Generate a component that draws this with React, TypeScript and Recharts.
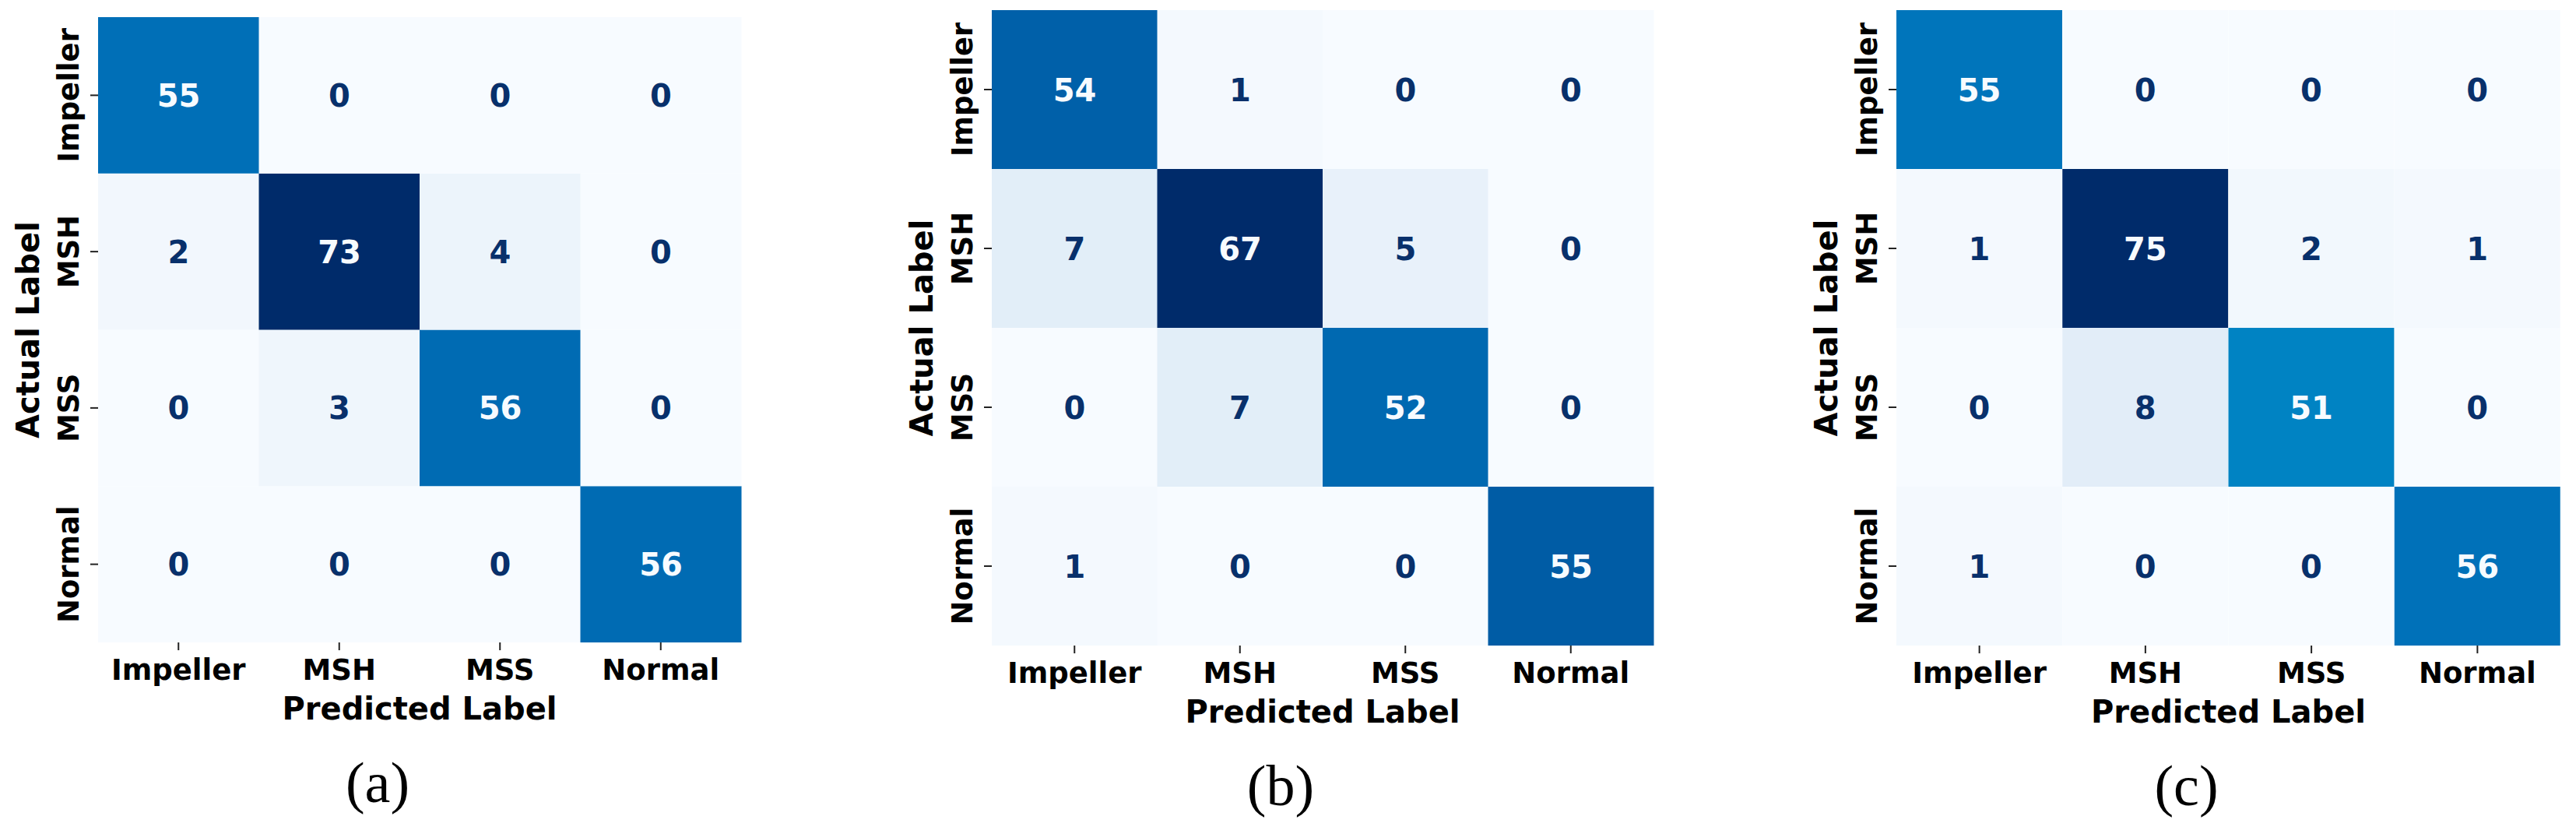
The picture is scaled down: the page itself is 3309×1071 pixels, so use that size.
import React from "react";
import { BarChart, Bar, XAxis, YAxis, Cell, LabelList, Label } from "recharts";

// class names, used for both axes
const CLASSES = ["Impeller", "MSH", "MSS", "Normal"];

// confusion matrices: rows = actual, columns = predicted
const MATRIX_A = [
  [55, 0, 0, 0],
  [2, 73, 4, 0],
  [0, 3, 56, 0],
  [0, 0, 0, 56],
];
const MATRIX_B = [
  [54, 1, 0, 0],
  [7, 67, 5, 0],
  [0, 7, 52, 0],
  [1, 0, 0, 55],
];
const MATRIX_C = [
  [55, 0, 0, 0],
  [1, 75, 2, 1],
  [0, 8, 51, 0],
  [1, 0, 0, 56],
];
const CAPTIONS = ["(a)", "(b)", "(c)"];

// page layout of each panel (plot rectangle in page pixels)
const PANELS = [
  { matrix: MATRIX_A, chartLeft: 0, chartWidth: 1000, plot: { l: 126, t: 22, r: 952, b: 825 } },
  { matrix: MATRIX_B, chartLeft: 1110, chartWidth: 1040, plot: { l: 1274, t: 13, r: 2124, b: 829 } },
  { matrix: MATRIX_C, chartLeft: 2270, chartWidth: 1039, plot: { l: 2436, t: 13, r: 3289, b: 829 } },
];

const PAGE_H = 1071;
const Y_AXIS_W = 100;
const X_AXIS_H = 60;
const SANS = "'DejaVu Sans', Verdana, sans-serif";
const SERIF = "'Liberation Serif', 'Times New Roman', serif";

// Blues-like colour ramp (tuned to the picture)
const STOPS: [number, number[]][] = [
  [0, [247, 251, 255]],
  [0.125, [222, 235, 247]],
  [0.25, [198, 219, 239]],
  [0.375, [158, 202, 225]],
  [0.5, [100, 170, 215]],
  [0.625, [30, 140, 205]],
  [0.68, [0, 131, 195]],
  [0.75, [0, 112, 184]],
  [0.81, [0, 95, 168]],
  [0.875, [0, 80, 150]],
  [1, [0, 43, 106]],
];

function blues(t: number) {
  const v = Math.max(0, Math.min(1, t));
  for (let i = 1; i < STOPS.length; i++) {
    const [t1, c1] = STOPS[i];
    const [t0, c0] = STOPS[i - 1];
    if (v <= t1) {
      const f = (v - t0) / (t1 - t0);
      const c = c0.map((a, k) => Math.round(a + (c1[k] - a) * f));
      return `rgb(${c[0]},${c[1]},${c[2]})`;
    }
  }
  return "rgb(0,43,106)";
}

const Y_TICKS = CLASSES.map((_, i) => CLASSES.length - i - 0.5);

function buildData(m: number[][]) {
  return CLASSES.map((pred, j) => {
    const rec: Record<string, any> = { pred };
    m.forEach((row, i) => {
      rec[`cell${i}`] = 1;
      rec[`count${i}`] = row[j];
    });
    return rec;
  });
}

const XTick = (props: any) => {
  const { x, y, payload } = props;
  return (
    <text x={x} y={y + 38} textAnchor="middle" fill="#000"
      style={{ fontFamily: SANS, fontWeight: 700, fontSize: 37 }}>
      {payload.value}
    </text>
  );
};

const YTick = (props: any) => {
  const { x, y, payload } = props;
  const name = CLASSES[CLASSES.length - 1 - Math.floor(payload.value)];
  const bx = x - 15;
  return (
    <text x={bx} y={y} transform={`rotate(-90 ${bx} ${y})`} textAnchor="middle" fill="#000"
      style={{ fontFamily: SANS, fontWeight: 700, fontSize: 37 }}>
      {name}
    </text>
  );
};

function Panel({ idx }: { idx: number }) {
  const p = PANELS[idx];
  const m = p.matrix;
  const max = Math.max(...m.flat());
  const data = buildData(m);
  const margin = {
    left: p.plot.l - p.chartLeft - Y_AXIS_W,
    top: p.plot.t,
    right: p.chartLeft + p.chartWidth - p.plot.r,
    bottom: PAGE_H - p.plot.b - X_AXIS_H,
  };
  // stack from the bottom row (Normal) up to the top row (Impeller)
  const rowOrder = m.map((_, i) => i).reverse();

  return (
    <div style={{ position: "absolute", left: p.chartLeft, top: 0 }}>
      <BarChart width={p.chartWidth} height={PAGE_H} data={data} margin={margin}
        barCategoryGap={0} barGap={0}>
        <XAxis dataKey="pred" type="category" interval={0} axisLine={false}
          tickSize={10} tickMargin={0} height={X_AXIS_H}
          tickLine={{ stroke: "#222", strokeWidth: 2 }} tick={<XTick />}>
          <Label content={(lp: any) => {
            const vb = lp.viewBox;
            const cx = vb.x + vb.width / 2;
            return (
              <g>
                <text x={cx} y={vb.y + 99} textAnchor="middle" fill="#000"
                  style={{ fontFamily: SANS, fontWeight: 700, fontSize: 40 }}>
                  Predicted Label
                </text>
                <text x={cx - 54} y={vb.y + 205} textAnchor="middle" fill="#000"
                  style={{ fontFamily: SERIF, fontSize: 74 }}>
                  {CAPTIONS[idx]}
                </text>
              </g>
            );
          }} />
        </XAxis>
        <YAxis type="number" domain={[0, CLASSES.length]} ticks={Y_TICKS} interval={0}
          axisLine={false} tickSize={10} tickMargin={0} width={Y_AXIS_W}
          tickLine={{ stroke: "#222", strokeWidth: 2 }} tick={<YTick />}>
          <Label content={(lp: any) => {
            const vb = lp.viewBox;
            const bx = vb.x + vb.width - 76;
            const cy = vb.y + vb.height / 2;
            return (
              <text x={bx} y={cy} transform={`rotate(-90 ${bx} ${cy})`} textAnchor="middle" fill="#000"
                style={{ fontFamily: SANS, fontWeight: 700, fontSize: 40 }}>
                Actual Label
              </text>
            );
          }} />
        </YAxis>
        {rowOrder.map((i) => (
          <Bar key={i} dataKey={`cell${i}`} stackId="cm" isAnimationActive={false}>
            {data.map((d, j) => (
              <Cell key={j} fill={blues(d[`count${i}`] / max)} />
            ))}
            <LabelList dataKey={`count${i}`} content={(lp: any) => {
              const { x, y, width, height, value } = lp;
              const light = value / max > 0.5;
              return (
                <text x={Number(x) + Number(width) / 2} y={Number(y) + Number(height) / 2 + 14.5}
                  textAnchor="middle" fill={light ? "#f7fbff" : "#08306b"}
                  style={{ fontFamily: SANS, fontWeight: 700, fontSize: 40 }}>
                  {value}
                </text>
              );
            }} />
          </Bar>
        ))}
      </BarChart>
    </div>
  );
}

export default function App() {
  return (
    <div style={{ position: "absolute", left: 0, top: 0, width: 3309, height: PAGE_H, background: "#fff" }}>
      {PANELS.map((_, i) => (
        <Panel key={i} idx={i} />
      ))}
    </div>
  );
}
